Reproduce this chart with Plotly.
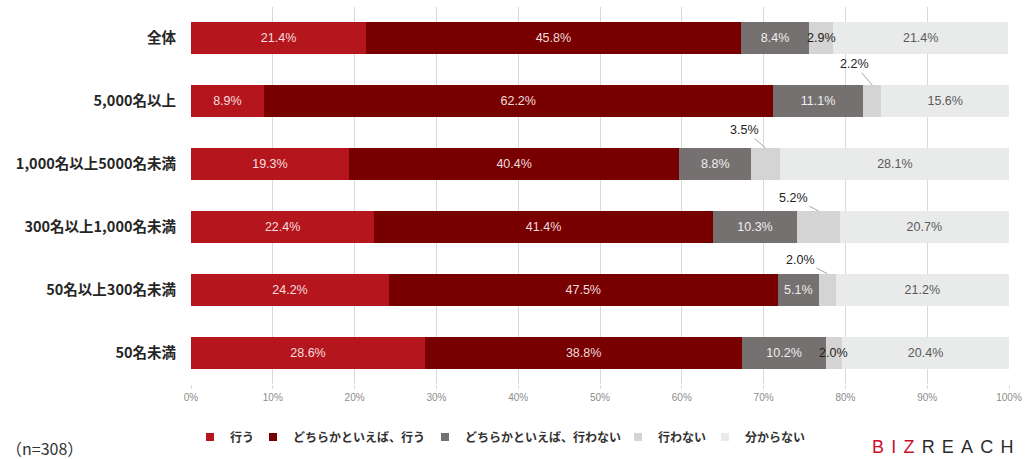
import plotly.graph_objects as go

categories = ["全体", "5,000名以上", "1,000名以上5000名未満", "300名以上1,000名未満", "50名以上300名未満", "50名未満"]
series_names = ["行う", "どちらかといえば、行う", "どちらかといえば、行わない", "行わない", "分からない"]
v_yes = [21.4, 8.9, 19.3, 22.4, 24.2, 28.6]
v_rather_yes = [45.8, 62.2, 40.4, 41.4, 47.5, 38.8]
v_rather_no = [8.4, 11.1, 8.8, 10.3, 5.1, 10.2]
v_no = [2.9, 2.2, 3.5, 5.2, 2.0, 2.0]
v_unknown = [21.4, 15.6, 28.1, 20.7, 21.2, 20.4]
x_ticks = [0, 10, 20, 30, 40, 50, 60, 70, 80, 90, 100]
x_tick_labels = ["0%", "10%", "20%", "30%", "40%", "50%", "60%", "70%", "80%", "90%", "100%"]
sample_note = "（n=308）"

colors = ["#b5161e", "#780000", "#767171", "#d4d4d4", "#e9eaea"]
text_colors = ["#f4dede", "#f0dcdc", "#eeeeee", "#222222", "#595959"]
legend_widths = [18, 127, 148, 42, 60]
all_vals = [v_yes, v_rather_yes, v_rather_no, v_no, v_unknown]

LABEL_FONT = "Liberation Sans, Arial, sans-serif"
CJK = "Noto Sans CJK JP, sans-serif"
LBL_SIZE = 12.5

fig = go.Figure()
for i, (name, vals) in enumerate(zip(series_names, all_vals)):
    if i == 3:
        texts = [""] * len(vals)
    else:
        texts = [f"{v:.1f}%" for v in vals]
    fig.add_trace(go.Bar(
        y=categories, x=vals, name=name, orientation="h",
        marker=dict(color=colors[i], line=dict(width=0)),
        text=texts, textposition="inside", insidetextanchor="middle",
        textangle=0, texttemplate="%{text}",
        textfont=dict(family=LABEL_FONT, size=LBL_SIZE, color=text_colors[i]),
        hoverinfo="skip", showlegend=False, legendgroup=name,
    ))

# legend entries with small square markers
for i, name in enumerate(series_names):
    fig.add_trace(go.Scatter(
        x=[None], y=[None], mode="markers", name=name, legendgroup=name,
        marker=dict(symbol="square", size=8, color=colors[i]),
        legendwidth=legend_widths[i], hoverinfo="skip",
    ))

# labels for the narrow "行わない" segments
callout_offsets = {1: (-18, -21), 2: (-21, -18), 3: (-25, -13), 4: (-27, -14)}
for idx, cat in enumerate(categories):
    left = v_yes[idx] + v_rather_yes[idx] + v_rather_no[idx]
    center = left + v_no[idx] / 2
    label = f"{v_no[idx]:.1f}%"
    if idx in callout_offsets:
        ax, ay = callout_offsets[idx]
        fig.add_annotation(
            x=center, y=idx - 0.255, xref="x", yref="y", text=label,
            showarrow=True, arrowhead=0, arrowwidth=1, arrowcolor="#a6a6a6",
            ax=ax, ay=ay, standoff=0,
            font=dict(family=LABEL_FONT, size=LBL_SIZE, color="#222222"),
        )
    else:
        fig.add_annotation(
            x=center, y=idx, xref="x", yref="y", text=label, showarrow=False,
            font=dict(family=LABEL_FONT, size=LBL_SIZE, color="#222222"),
        )

fig.add_annotation(
    x=(4 - 191) / 818, y=-(448 - 384) / 377, xref="paper", yref="paper",
    xanchor="left", yanchor="middle", showarrow=False, text=sample_note,
    font=dict(family=CJK, size=16, color="#333333"),
)

sp = "\u2009\u2009"
fig.add_annotation(
    x=(870 - 191) / 818, y=-(447 - 384) / 377, xref="paper", yref="paper",
    xanchor="left", yanchor="middle", showarrow=False,
    text=("<span style='color:#c8102e'>" + sp.join("BIZ") + "</span>" + sp +
          "<span style='color:#2b2b2b'>" + sp.join("REACH") + "</span>"),
    font=dict(family="Liberation Sans, Arial, sans-serif", size=18),
)

fig.update_layout(
    barmode="stack",
    bargap=0.49,
    width=1025, height=459,
    margin=dict(l=191, r=16, t=7, b=75, autoexpand=False),
    paper_bgcolor="white", plot_bgcolor="white",
    showlegend=True,
    legend=dict(
        orientation="h", x=(190 - 191) / 818, y=-(437 - 384) / 377,
        xanchor="left", yanchor="middle",
        font=dict(family=CJK, size=12, color="#333333", weight="bold"),
        itemwidth=30, traceorder="normal",
        itemclick=False, itemdoubleclick=False,
    ),
    xaxis=dict(
        range=[0, 100], tickvals=x_ticks, ticktext=x_tick_labels,
        showgrid=True, gridcolor="#d9d9d9", gridwidth=1,
        zeroline=False, showline=False,
        ticks="outside", ticklen=4, tickcolor="#d9d9d9",
        tickfont=dict(family="Liberation Sans Narrow, Arial Narrow, Liberation Sans, sans-serif", size=10, color="#8c8c8c"),
        fixedrange=True,
    ),
    yaxis=dict(
        autorange="reversed", showgrid=False, zeroline=False, showline=False,
        ticks="", ticklabelstandoff=14,
        tickfont=dict(family=CJK, size=14.5, color="#262626", weight="bold"),
        fixedrange=True,
    ),
    uniformtext=dict(minsize=LBL_SIZE, mode="show"),
)

fig.write_html(
    "out.html",
    config={"displayModeBar": False},
    post_script="document.body.style.margin='0';document.body.style.overflow='hidden';",
)
